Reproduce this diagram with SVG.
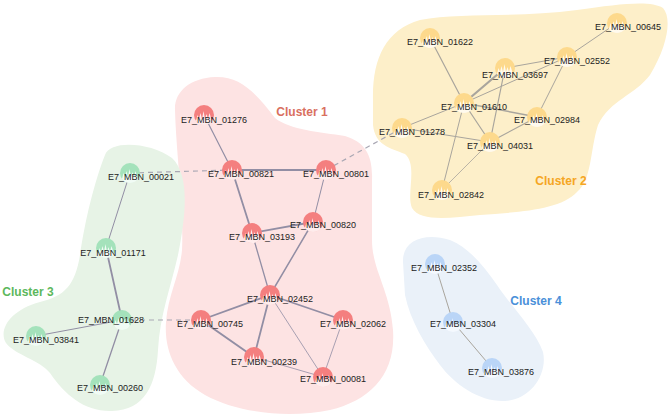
<svg xmlns="http://www.w3.org/2000/svg" xmlns:xlink="http://www.w3.org/1999/xlink" width="669" height="417" viewBox="0 0 669 417">
<style>
.lbl{font-family:"Liberation Sans",Arial,sans-serif;font-size:9px;fill:#222;text-anchor:middle}
.cl{font-family:"Liberation Sans",Arial,sans-serif;font-size:12px;font-weight:bold;text-anchor:middle}
.e{fill:none;stroke:#928ea4;stroke-linecap:round}
.e2{fill:none;stroke:#a9a59d;stroke-linecap:round}
.d{fill:none;stroke:#a9a7b3;stroke-width:1.2;stroke-dasharray:5,4}
.r{fill:#f47f7f}.y{fill:#fdd98c}.g{fill:#a4e2bb}.b{fill:#bad5f7}
</style>
<defs>
<path id="gl" d="M-8,6 L-6.5,0 L-5,4 L-3.5,-2 L-2,4 L-0.5,-4 L1,4 L2.5,-1 L4,4 L5.5,-2 L7,3 L8,6 A10,10 0 0 1 -8,6 Z" fill="#fff" fill-opacity="0.85"/>
</defs>
<g id="hulls">
<path id="hull1" fill="#fde3e3" d="M175,110 C174,92 190,78 215,77 C240,76 255,92 275,118 C290,130 320,132 345,136 C365,142 373,155 372,180 L372,240 C372,270 390,290 393,330 C396,375 370,400 330,410 C290,418 240,414 205,395 C175,378 164,350 166,322 C168,295 180,275 182,250 C184,210 176,150 175,110 Z"/>
<path id="hull2" fill="#fdefc9" d="M373,100 C372,60 385,30 420,20 C460,12 520,18 577,10 C620,4 650,0 663,8 C672,18 668,45 650,75 C635,95 610,100 598,125 C590,150 592,180 577,192 C560,210 520,212 480,215 C450,218 420,222 412,208 C406,195 418,165 405,154 C390,148 375,145 373,125 Z"/>
<path id="hull3" fill="#e7f3e6" d="M105,155 C110,140 150,142 172,158 C190,175 186,215 178,255 C170,290 160,315 158,350 C156,385 145,410 112,411 C85,412 65,395 50,373 C40,360 15,355 6,343 C-2,330 10,310 40,302 C65,296 75,285 80,255 C85,220 95,180 105,155 Z"/>
<path id="hull4" fill="#eaf1f9" d="M403,262 C402,240 425,232 450,240 C470,248 485,268 497,285 C510,305 535,330 543,352 C548,375 530,400 505,401 C480,402 455,385 440,365 C425,345 410,320 405,295 Z"/>
</g>
<g id="clusterlabels">
<text class="cl" x="302" y="116" fill="#d9705f">Cluster 1</text>
<text class="cl" x="561" y="185" fill="#f5a623">Cluster 2</text>
<text class="cl" x="28" y="296" fill="#5cb85c">Cluster 3</text>
<text class="cl" x="536" y="305" fill="#4a90d9">Cluster 4</text>
</g>
<g id="connectors">
<line class="d" x1="130" y1="173" x2="232" y2="170"/>
<line class="d" x1="326" y1="170" x2="402" y2="128"/>
<line class="d" x1="122" y1="320" x2="201" y2="320"/>
<line class="e" stroke-width="1.2" x1="204" y1="115" x2="232" y2="170"/>
<line class="e" stroke-width="1.8" x1="232" y1="170" x2="326" y2="170"/>
<line class="e" stroke-width="1.8" x1="232" y1="170" x2="252" y2="233"/>
<line class="e" stroke-width="1" x1="326" y1="170" x2="313" y2="222"/>
<line class="e" stroke-width="1.8" x1="313" y1="222" x2="252" y2="233"/>
<line class="e" stroke-width="1.3" x1="252" y1="233" x2="270" y2="295"/>
<line class="e" stroke-width="1.5" x1="313" y1="222" x2="270" y2="295"/>
<line class="e" stroke-width="1.8" x1="270" y1="295" x2="201" y2="320"/>
<line class="e" stroke-width="1.8" x1="270" y1="295" x2="343" y2="320"/>
<line class="e" stroke-width="1.8" x1="270" y1="295" x2="254" y2="357"/>
<line class="e" stroke-width="0.8" x1="270" y1="295" x2="323" y2="377"/>
<line class="e" stroke-width="2" x1="201" y1="320" x2="254" y2="357"/>
<line class="e" stroke-width="0.8" x1="254" y1="357" x2="323" y2="377"/>
<line class="e" stroke-width="0.8" x1="343" y1="320" x2="323" y2="377"/>
<line class="e2" stroke-width="1" x1="617" y1="23" x2="567" y2="57"/>
<line class="e2" stroke-width="1" x1="567" y1="57" x2="505" y2="68"/>
<line class="e2" stroke-width="1" x1="567" y1="57" x2="464" y2="103"/>
<line class="e2" stroke-width="1" x1="567" y1="57" x2="537" y2="117"/>
<line class="e2" stroke-width="1.2" x1="430" y1="38" x2="464" y2="103"/>
<line class="e2" stroke-width="2.2" x1="505" y1="68" x2="464" y2="103"/>
<line class="e2" stroke-width="1.2" x1="505" y1="68" x2="490" y2="142"/>
<line class="e2" stroke-width="1.5" x1="464" y1="103" x2="537" y2="117"/>
<line class="e2" stroke-width="1.2" x1="464" y1="103" x2="490" y2="142"/>
<line class="e2" stroke-width="1" x1="464" y1="103" x2="402" y2="128"/>
<line class="e2" stroke-width="1" x1="464" y1="103" x2="442" y2="190"/>
<line class="e2" stroke-width="1" x1="402" y1="128" x2="490" y2="142"/>
<line class="e2" stroke-width="1.2" x1="490" y1="142" x2="537" y2="117"/>
<line class="e2" stroke-width="0.8" x1="490" y1="142" x2="442" y2="190"/>
<line class="e" stroke-width="1" x1="130" y1="173" x2="106" y2="248"/>
<line class="e" stroke-width="1.8" x1="106" y1="248" x2="122" y2="320"/>
<line class="e" stroke-width="1" x1="122" y1="320" x2="36" y2="336"/>
<line class="e" stroke-width="1.3" x1="122" y1="320" x2="100" y2="385"/>
<line class="e2" stroke-width="1" x1="435" y1="264" x2="453" y2="322"/>
<line class="e2" stroke-width="1" x1="453" y1="322" x2="492" y2="368"/>
</g>
<g id="n01276"><circle class="r" cx="204" cy="115" r="10"/><use href="#gl" x="204" y="115"/><text class="lbl" x="214" y="123">E7_MBN_01276</text></g>
<g id="n00821"><circle class="r" cx="232" cy="170" r="10"/><use href="#gl" x="232" y="170"/><text class="lbl" x="241" y="177">E7_MBN_00821</text></g>
<g id="n00801"><circle class="r" cx="326" cy="170" r="10"/><use href="#gl" x="326" y="170"/><text class="lbl" x="336" y="177">E7_MBN_00801</text></g>
<g id="n00820"><circle class="r" cx="313" cy="222" r="10"/><use href="#gl" x="313" y="222"/><text class="lbl" x="323" y="228">E7_MBN_00820</text></g>
<g id="n03193"><circle class="r" cx="252" cy="233" r="10"/><use href="#gl" x="252" y="233"/><text class="lbl" x="262" y="240">E7_MBN_03193</text></g>
<g id="n02452"><circle class="r" cx="270" cy="295" r="10"/><use href="#gl" x="270" y="295"/><text class="lbl" x="280" y="302">E7_MBN_02452</text></g>
<g id="n00745"><circle class="r" cx="201" cy="320" r="10"/><use href="#gl" x="201" y="320"/><text class="lbl" x="210" y="327">E7_MBN_00745</text></g>
<g id="n02062"><circle class="r" cx="343" cy="320" r="10"/><use href="#gl" x="343" y="320"/><text class="lbl" x="353" y="327">E7_MBN_02062</text></g>
<g id="n00239"><circle class="r" cx="254" cy="357" r="10"/><use href="#gl" x="254" y="357"/><text class="lbl" x="264" y="365">E7_MBN_00239</text></g>
<g id="n00081"><circle class="r" cx="323" cy="377" r="10"/><use href="#gl" x="323" y="377"/><text class="lbl" x="333" y="382">E7_MBN_00081</text></g>
<g id="n00645"><circle class="y" cx="617" cy="23" r="10"/><use href="#gl" x="617" y="23"/><text class="lbl" x="628" y="30">E7_MBN_00645</text></g>
<g id="n01622"><circle class="y" cx="430" cy="38" r="10"/><use href="#gl" x="430" y="38"/><text class="lbl" x="440" y="45">E7_MBN_01622</text></g>
<g id="n02552"><circle class="y" cx="567" cy="57" r="10"/><use href="#gl" x="567" y="57"/><text class="lbl" x="577" y="64">E7_MBN_02552</text></g>
<g id="n03697"><circle class="y" cx="505" cy="68" r="10"/><use href="#gl" x="505" y="68"/><text class="lbl" x="515" y="78">E7_MBN_03697</text></g>
<g id="n01610"><circle class="y" cx="464" cy="103" r="10"/><use href="#gl" x="464" y="103"/><text class="lbl" x="474" y="110">E7_MBN_01610</text></g>
<g id="n02984"><circle class="y" cx="537" cy="117" r="10"/><use href="#gl" x="537" y="117"/><text class="lbl" x="547" y="123">E7_MBN_02984</text></g>
<g id="n01278"><circle class="y" cx="402" cy="128" r="10"/><use href="#gl" x="402" y="128"/><text class="lbl" x="412" y="135">E7_MBN_01278</text></g>
<g id="n04031"><circle class="y" cx="490" cy="142" r="10"/><use href="#gl" x="490" y="142"/><text class="lbl" x="500" y="149">E7_MBN_04031</text></g>
<g id="n02842"><circle class="y" cx="442" cy="190" r="10"/><use href="#gl" x="442" y="190"/><text class="lbl" x="451" y="198">E7_MBN_02842</text></g>
<g id="n00021"><circle class="g" cx="130" cy="173" r="10"/><use href="#gl" x="130" y="173"/><text class="lbl" x="141" y="180">E7_MBN_00021</text></g>
<g id="n01171"><circle class="g" cx="106" cy="248" r="10"/><use href="#gl" x="106" y="248"/><text class="lbl" x="113" y="256">E7_MBN_01171</text></g>
<g id="n01628"><circle class="g" cx="122" cy="320" r="10"/><use href="#gl" x="122" y="320"/><text class="lbl" x="111" y="323">E7_MBN_01628</text></g>
<g id="n03841"><circle class="g" cx="36" cy="336" r="10"/><use href="#gl" x="36" y="336"/><text class="lbl" x="46" y="343">E7_MBN_03841</text></g>
<g id="n00260"><circle class="g" cx="100" cy="385" r="10"/><use href="#gl" x="100" y="385"/><text class="lbl" x="110" y="391">E7_MBN_00260</text></g>
<g id="n02352"><circle class="b" cx="435" cy="264" r="10"/><use href="#gl" x="435" y="264"/><text class="lbl" x="444" y="271">E7_MBN_02352</text></g>
<g id="n03304"><circle class="b" cx="453" cy="322" r="10"/><use href="#gl" x="453" y="322"/><text class="lbl" x="463" y="327">E7_MBN_03304</text></g>
<g id="n03876"><circle class="b" cx="492" cy="368" r="10"/><use href="#gl" x="492" y="368"/><text class="lbl" x="501" y="375">E7_MBN_03876</text></g>
</svg>
